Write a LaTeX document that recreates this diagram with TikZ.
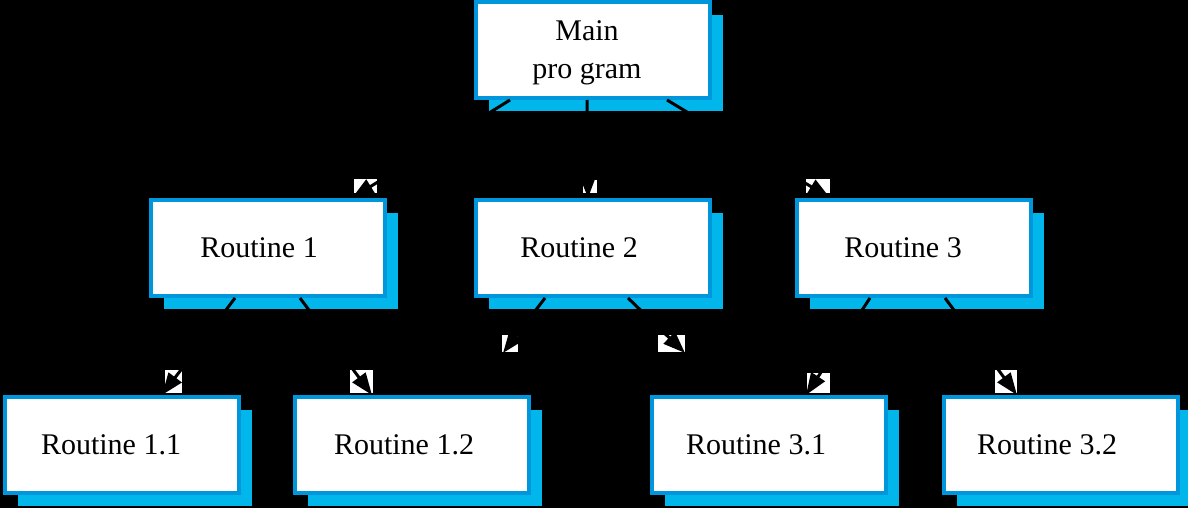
\documentclass[tikz,border=0pt]{standalone}
\usepackage{fontspec}
\setmainfont{Liberation Serif}
\usetikzlibrary{calc,shadows,arrows.meta}
\definecolor{edgeblue}{RGB}{0,150,220}
\definecolor{shadeblue}{RGB}{0,182,235}
\begin{document}
\begin{tikzpicture}[x=1pt,y=-1pt,
  modbox/.style={draw=edgeblue, line width=4pt, fill=white,
    minimum width=234pt, minimum height=96pt, inner sep=0pt,
    drop shadow={shadow xshift=13pt, shadow yshift=-13pt, fill=shadeblue, opacity=1}},
  boxtext/.style={font=\fontsize{30}{38}\selectfont, align=center},
  call/.style={draw=black, line width=3pt, -{Triangle[length=22pt,width=16pt]}},
  tipbg/.style={fill=white}]
\fill[black] (0,0) rectangle (1188,508);
\useasboundingbox (0,0) rectangle (1188,508);

% modules
\node[modbox] (main) at (593,50) {};
\node[modbox] (r1) at (268,248) {};
\node[modbox] (r2) at (593,248) {};
\node[modbox] (r3) at (914,248) {};
\node[modbox] (r11) at (122,445) {};
\node[modbox] (r12) at (412,445) {};
\node[modbox] (r31) at (769,445) {};
\node[modbox] (r32) at (1061,445) {};

% labels
\node[boxtext] (tmain) at ($(main)+(-6,3)$) {Main\\pro gram};
\node[boxtext] (t1) at ($(r1)+(-9,0)$) {Routine 1};
\node[boxtext] (t2) at ($(r2)+(-14,0)$) {Routine 2};
\node[boxtext] (t3) at ($(r3)+(-11,0)$) {Routine 3};
\node[boxtext] (t11) at ($(r11)+(-11,0)$) {Routine 1.1};
\node[boxtext] (t12) at ($(r12)+(-8,0)$) {Routine 1.2};
\node[boxtext] (t31) at ($(r31)+(-13,0)$) {Routine 3.1};
\node[boxtext] (t32) at ($(r32)+(-14,0)$) {Routine 3.2};

% free ends of the calls out of Routine 2
\coordinate (e21) at (503,353);
\coordinate (e22) at (685,353);

% light patches behind the arrow heads
\fill[tipbg] (354,179) rectangle (377,193);
\fill[tipbg] (583,180) rectangle (597,193);
\fill[tipbg] (806,179) rectangle (830,193);
\fill[tipbg] (502,335) rectangle (518,352);
\fill[tipbg] (658,335) rectangle (685,352);
\fill[tipbg] (165,370) rectangle (182,393);
\fill[tipbg] (350,370) rectangle (373,393);
\fill[tipbg] (807,373) rectangle (830,393);
\fill[tipbg] (995,370) rectangle (1017,393);

% calls
\draw[call] ($(main.south)+(-83,0)$) -- ($(r1.north)+(84,0)$);
\draw[call] ($(main.south)+(-6,0)$) -- ($(r2.north)+(-5,0)$);
\draw[call] ($(main.south)+(74,0)$) -- ($(r3.north)+(-84,0)$);
\draw[call] ($(r1.south)+(-33,0)$) -- ($(r11.north)+(40,0)$);
\draw[call] ($(r1.south)+(32,0)$) -- ($(r12.north)+(-40,0)$);
\draw[call] ($(r2.south)+(-48,0)$) -- (e21);
\draw[call] ($(r2.south)+(35,0)$) -- (e22);
\draw[call] ($(r3.south)+(-44,0)$) -- ($(r31.north)+(37,0)$);
\draw[call] ($(r3.south)+(31,0)$) -- ($(r32.north)+(-44,0)$);
\end{tikzpicture}
\end{document}
